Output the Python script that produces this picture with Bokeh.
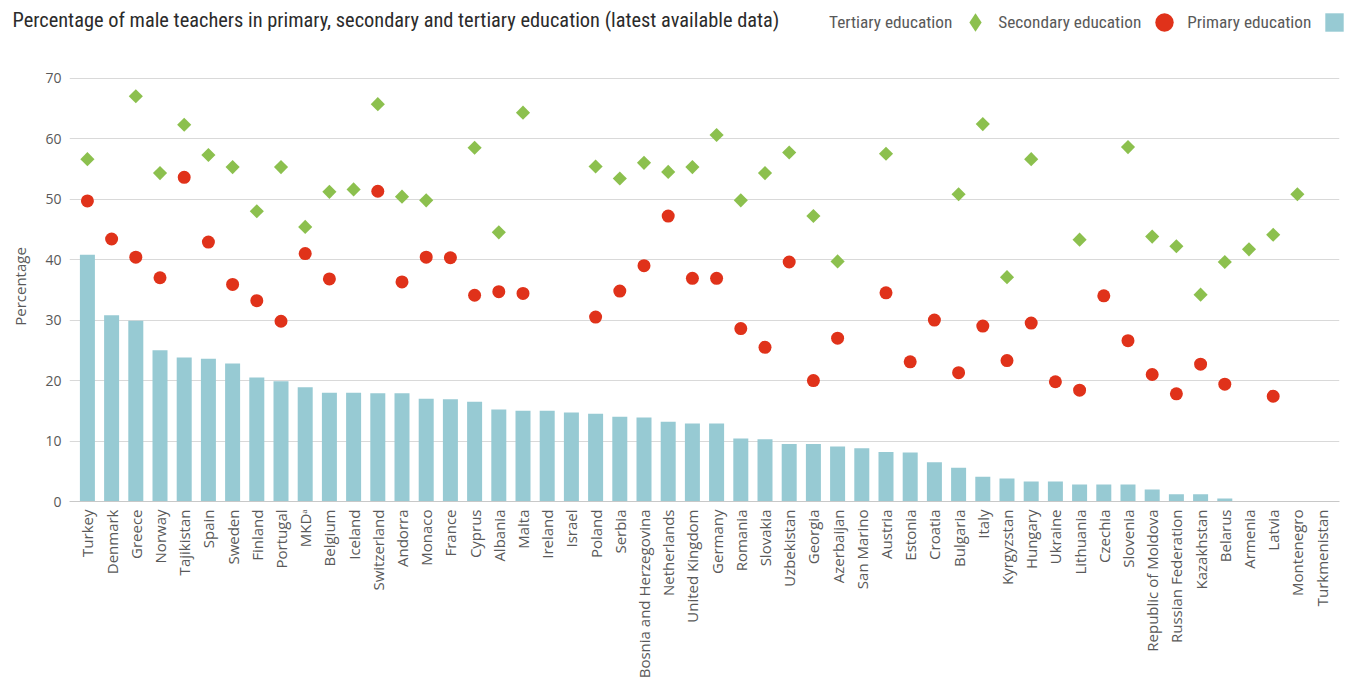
import math
import numpy as np
from bokeh.plotting import figure
from bokeh.layouts import column
from bokeh.models import FactorRange, Range1d, FixedTicker, Legend, LegendItem, Label, ColumnDataSource
from bokeh.embed import file_html
from bokeh.resources import INLINE

nan = float("nan")

title_text = "Percentage of male teachers in primary, secondary and tertiary education (latest available data)"

countries = ["Turkey", "Denmark", "Greece", "Norway", "Tajikistan", "Spain", "Sweden", "Finland",
             "Portugal", "MKDᵃ", "Belgium", "Iceland", "Switzerland", "Andorra", "Monaco", "France",
             "Cyprus", "Albania", "Malta", "Ireland", "Israel", "Poland", "Serbia",
             "Bosnia and Herzegovina", "Netherlands", "United Kingdom", "Germany", "Romania",
             "Slovakia", "Uzbekistan", "Georgia", "Azerbaijan", "San Marino", "Austria", "Estonia",
             "Croatia", "Bulgaria", "Italy", "Kyrgyzstan", "Hungary", "Ukraine", "Lithuania",
             "Czechia", "Slovenia", "Republic of Moldova", "Russian Federation", "Kazakhstan",
             "Belarus", "Armenia", "Latvia", "Montenegro", "Turkmenistan"]

primary = [40.8, 30.8, 29.9, 25.0, 23.8, 23.6, 22.8, 20.5, 19.9, 18.9, 18.0, 18.0, 17.9, 17.9,
           17.0, 16.9, 16.5, 15.2, 15.0, 15.0, 14.7, 14.5, 14.0, 13.9, 13.2, 12.9, 12.9, 10.4,
           10.3, 9.5, 9.5, 9.1, 8.8, 8.2, 8.1, 6.5, 5.6, 4.1, 3.8, 3.3, 3.3, 2.8, 2.8, 2.8, 2.0,
           1.2, 1.2, 0.5, nan, nan, nan, nan]

secondary = [49.7, 43.4, 40.4, 37.0, 53.6, 42.9, 35.9, 33.2, 29.8, 41.0, 36.8, nan, 51.3, 36.3,
             40.4, 40.3, 34.1, 34.7, 34.4, nan, nan, 30.5, 34.8, 39.0, 47.2, 36.9, 36.9, 28.6,
             25.5, 39.6, 20.0, 27.0, nan, 34.5, 23.1, 30.0, 21.3, 29.0, 23.3, 29.5, 19.8, 18.4,
             34.0, 26.6, 21.0, 17.8, 22.7, 19.4, nan, 17.4, nan, nan]

tertiary = [56.6, nan, 67.0, 54.3, 62.3, 57.3, 55.3, 48.0, 55.3, 45.4, 51.2, 51.6, 65.7, 50.4,
            49.8, nan, 58.5, 44.5, 64.3, nan, nan, 55.4, 53.4, 56.0, 54.5, 55.3, 60.6, 49.8,
            54.3, 57.7, 47.2, 39.7, nan, 57.5, nan, nan, 50.8, 62.4, 37.1, 56.6, nan, 43.3,
            nan, 58.6, 43.8, 42.2, 34.2, 39.6, 41.7, 44.1, 50.8, nan]

yticks = [0, 10, 20, 30, 40, 50, 60, 70]

BAR = "#97CAD3"
RED = "#E0321A"
GREEN = "#8CC04E"
TXT = "#595959"
FONT = "Open Sans"
COND = "'Roboto Condensed', 'Open Sans', sans-serif"

W, HEAD_H, H = 1347, 44, 687

# ---------------- header: title + legend ----------------
head = figure(width=W, height=HEAD_H, x_range=Range1d(0, 1), y_range=Range1d(0, 1),
              x_axis_location=None, y_axis_location=None, output_backend="svg",
              toolbar_location=None, min_border=0, min_border_left=0, min_border_right=0,
              min_border_top=0, min_border_bottom=0)
if "frame_align" in head.properties():
    head.frame_align = False
head.outline_line_color = None
head.xgrid.grid_line_color = None
head.ygrid.grid_line_color = None

head.add_layout(Label(x=12, y=HEAD_H - 19, x_units="screen", y_units="screen", text=title_text,
                      text_font=COND, text_font_size="20.4px", text_color="#2b2b2b",
                      text_baseline="middle", text_align="left"))

# legend keys: one point each, placed outside the visible header range
k_blank = head.scatter(x=[-5], y=[-5], marker="square", size=1, fill_alpha=0, line_alpha=0)
k_dia = head.scatter(x=[-5], y=[-5], marker="diamond", size=10,
                     fill_color=GREEN, line_color=None)
k_circ = head.scatter(x=[-5], y=[-5], marker="circle", size=10, fill_color=RED, line_color=None)
k_sq = head.scatter(x=[-5], y=[-5], marker="square", size=10, fill_color=BAR, line_color=None)

GL = 46
legend = Legend(items=[
    LegendItem(label="Tertiary education", renderers=[k_blank]),
    LegendItem(label="Secondary education", renderers=[k_dia]),
    LegendItem(label="Primary education", renderers=[k_circ]),
    LegendItem(label="", renderers=[k_sq]),
], location=(783, HEAD_H - 22 - GL // 2), orientation="horizontal", glyph_width=GL,
    glyph_height=GL, label_standoff=0, spacing=0, padding=0, margin=0,
    border_line_color=None, background_fill_alpha=0, label_text_font=COND,
    label_text_font_size="17.3px", label_text_color=TXT, label_width=0)
head.add_layout(legend)

# ---------------- main chart ----------------
src = ColumnDataSource(dict(
    country=countries,
    primary=np.array(primary, dtype=float),
    secondary=np.array(secondary, dtype=float),
    tertiary=np.array(tertiary, dtype=float),
))

PH = H - HEAD_H
p = figure(width=W, height=PH,
           x_range=FactorRange(*countries, range_padding=0.24, range_padding_units="absolute"),
           y_range=Range1d(0, 71.1),
           output_backend="svg", toolbar_location=None,
           min_border_left=69, min_border_right=8, min_border_top=71 - HEAD_H,
           min_border_bottom=PH - (501 - HEAD_H))
if "frame_align" in p.properties():
    p.frame_align = False

p.outline_line_color = None
p.xgrid.grid_line_color = None
p.ygrid.grid_line_color = "#d9d9d9"
p.ygrid.grid_line_width = 1

p.vbar(x="country", top="primary", width=0.62, source=src, fill_color=BAR, line_color=None)
p.scatter(x="country", y="secondary", source=src, marker="circle", size=13,
          fill_color=RED, line_color=None)
p.scatter(x="country", y="tertiary", source=src, marker="square", angle=math.pi / 4,
          size=10, fill_color=GREEN, line_color=None)

# y axis
p.yaxis.ticker = FixedTicker(ticks=yticks)
p.yaxis.axis_line_color = None
p.yaxis.major_tick_line_color = None
p.yaxis.minor_tick_line_color = None
p.yaxis.major_tick_out = 0
p.yaxis.major_tick_in = 0
p.yaxis.minor_tick_out = 0
p.yaxis.major_label_standoff = 8
p.yaxis.major_label_text_font = FONT
p.yaxis.major_label_text_font_size = "14px"
p.yaxis.major_label_text_color = TXT
p.yaxis.axis_label = "Percentage"
p.yaxis.axis_label_text_font = FONT
p.yaxis.axis_label_text_font_size = "15px"
p.yaxis.axis_label_text_font_style = "normal"
p.yaxis.axis_label_text_color = TXT
p.yaxis.axis_label_standoff = 12

# x axis
p.xaxis.axis_line_color = "#c8c8c8"
p.xaxis.major_tick_line_color = None
p.xaxis.minor_tick_line_color = None
p.xaxis.major_tick_out = 0
p.xaxis.major_tick_in = 0
p.xaxis.minor_tick_out = 0
p.xaxis.major_label_orientation = math.pi / 2
p.xaxis.major_label_standoff = 8
p.xaxis.major_label_text_font = FONT
p.xaxis.major_label_text_font_size = "15px"
p.xaxis.major_label_text_color = TXT

layout = column(head, p, spacing=0)
open("out.html", "w").write(file_html(layout, INLINE))
